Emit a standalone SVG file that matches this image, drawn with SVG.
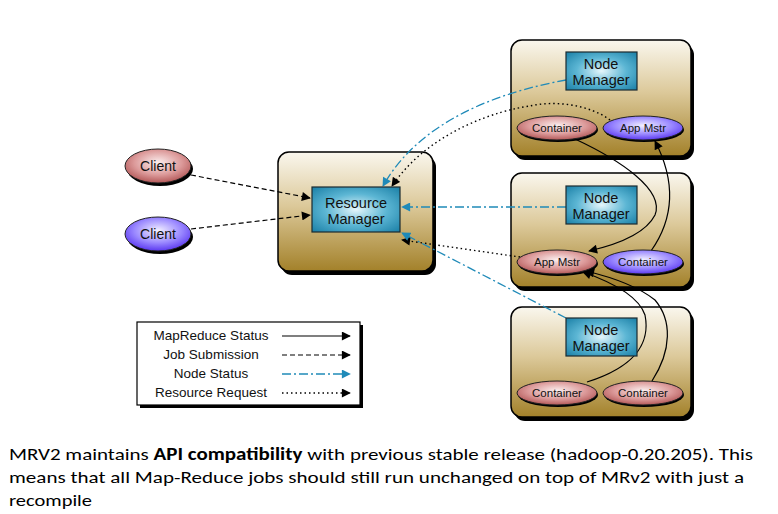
<svg xmlns="http://www.w3.org/2000/svg" width="778" height="514" viewBox="0 0 778 514">
<defs>
<linearGradient id="gBox" x1="0" y1="0" x2="0" y2="1">
<stop offset="0" stop-color="#faf7ee"/>
<stop offset="0.45" stop-color="#dcc99a"/>
<stop offset="1" stop-color="#a3812a"/>
</linearGradient>
<radialGradient id="gNM" cx="0.5" cy="0.5" r="0.7">
<stop offset="0" stop-color="#e6f6fb"/>
<stop offset="0.5" stop-color="#5cb6d4"/>
<stop offset="1" stop-color="#1a7fa6"/>
</radialGradient>
<radialGradient id="gPink" cx="0.5" cy="0.4" r="0.6">
<stop offset="0" stop-color="#fbeeee"/>
<stop offset="0.6" stop-color="#dc9a9a"/>
<stop offset="1" stop-color="#b35858"/>
</radialGradient>
<radialGradient id="gBlue" cx="0.5" cy="0.4" r="0.6">
<stop offset="0" stop-color="#f2f0ff"/>
<stop offset="0.6" stop-color="#9a88ff"/>
<stop offset="1" stop-color="#5b38f0"/>
</radialGradient>
<marker id="aK" viewBox="0 0 10 10" refX="9" refY="5" markerWidth="10" markerHeight="9" markerUnits="userSpaceOnUse" orient="auto">
<path d="M0,0 L10,5 L0,10 z" fill="#000"/>
</marker>
<marker id="aB" viewBox="0 0 10 10" refX="9" refY="5" markerWidth="10" markerHeight="9" markerUnits="userSpaceOnUse" orient="auto">
<path d="M0,0 L10,5 L0,10 z" fill="#1f8ab8"/>
</marker>
</defs>
<style>
.box{fill:url(#gBox);stroke:#000;stroke-width:1.5}
.shadow{fill:#000}
.nm{fill:url(#gNM);stroke:#1b2a30;stroke-width:1.2}
.pink{fill:url(#gPink);stroke:#222;stroke-width:1}
.blue{fill:url(#gBlue);stroke:#222;stroke-width:1}
.eshadow{fill:#000}
.t{font-family:"Liberation Sans",Arial,Helvetica,sans-serif;fill:#111;text-anchor:middle}
.tn{font-size:14.5px}
.te{font-size:11.5px}
.tc{font-size:14px}
.tl{font-size:13.5px}
.solid{fill:none;stroke:#000;stroke-width:1.2;marker-end:url(#aK)}
.dash{fill:none;stroke:#000;stroke-width:1.2;stroke-dasharray:5,3;marker-end:url(#aK)}
.dot{fill:none;stroke:#000;stroke-width:1.4;stroke-dasharray:1.5,3;marker-end:url(#aK)}
.nstat{fill:none;stroke:#1f8ab8;stroke-width:1.3;stroke-dasharray:9,3,2,3;marker-end:url(#aB)}
.body{font-family:Carlito,Calibri,"Open Sans","Liberation Sans",sans-serif;font-size:17px;fill:#000}
</style>

<g id="resource-manager-host">
<rect class="shadow" x="281" y="156" width="155" height="119" rx="11"/>
<rect class="box" x="278" y="152" width="155" height="119" rx="11"/>
</g>
<g id="node1">
<rect class="shadow" x="514" y="44" width="180" height="116" rx="11"/>
<rect class="box" x="511" y="40" width="180" height="116" rx="11"/>
</g>
<g id="node2">
<rect class="shadow" x="514" y="177" width="180" height="114" rx="11"/>
<rect class="box" x="511" y="173" width="180" height="114" rx="11"/>
</g>
<g id="node3">
<rect class="shadow" x="514" y="311" width="180" height="110" rx="11"/>
<rect class="box" x="511" y="307" width="180" height="110" rx="11"/>
</g>

<g id="connectors">
<path class="dash" d="M191,175 L310,198"/>
<path class="dash" d="M191,229 L310,215"/>
<path class="nstat" d="M566,80 C500,92 420,120 383,186"/>
<path class="dot" d="M610,120 C590,105 555,100 530,106 C500,110 430,130 392,186"/>
<path class="nstat" d="M566,207 L402,207"/>
<path class="dot" d="M520,257 L402,240"/>
<path class="nstat" d="M566,318 L402,233"/>
<path class="solid" d="M575,139 C620,160 665,190 655,215 C645,235 615,245 589,251"/>
<path class="solid" d="M651,251 C680,210 670,170 655,141"/>
<path class="solid" d="M587,382 C640,365 650,340 645,315 C640,300 620,285 583,272"/>
<path class="solid" d="M652,381 C672,350 672,320 655,300 C640,288 615,278 586,271"/>
</g>

<g id="resource-manager">
<rect class="nm" x="312" y="187" width="88" height="45"/>
<text class="t tn" x="356" y="208">Resource</text>
<text class="t tn" x="356" y="224">Manager</text>
</g>

<g id="client1">
<ellipse class="eshadow" cx="160" cy="169" rx="33" ry="17"/>
<ellipse class="pink" cx="158" cy="166" rx="33" ry="17"/>
<text class="t tc" x="158" y="171">Client</text>
</g>
<g id="client2">
<ellipse class="eshadow" cx="160" cy="237" rx="33" ry="17"/>
<ellipse class="blue" cx="158" cy="234" rx="33" ry="17"/>
<text class="t tc" x="158" y="239">Client</text>
</g>

<g id="node-manager-1">
<rect class="nm" x="566" y="52" width="71" height="38"/>
<text class="t tn" x="601" y="69">Node</text>
<text class="t tn" x="601" y="85">Manager</text>
</g>
<g id="container-1a">
<ellipse class="eshadow" cx="558" cy="130" rx="40" ry="12"/>
<ellipse class="pink" cx="557" cy="128" rx="40" ry="12"/>
<text class="t te" x="557" y="132">Container</text>
</g>
<g id="appmstr-1">
<ellipse class="eshadow" cx="644" cy="130" rx="40" ry="12"/>
<ellipse class="blue" cx="643" cy="128" rx="40" ry="12"/>
<text class="t te" x="643" y="132">App Mstr</text>
</g>

<g id="node-manager-2">
<rect class="nm" x="566" y="186" width="71" height="38"/>
<text class="t tn" x="601" y="203">Node</text>
<text class="t tn" x="601" y="219">Manager</text>
</g>
<g id="appmstr-2">
<ellipse class="eshadow" cx="558" cy="264" rx="40" ry="12"/>
<ellipse class="pink" cx="557" cy="262" rx="40" ry="12"/>
<text class="t te" x="557" y="266">App Mstr</text>
</g>
<g id="container-2">
<ellipse class="eshadow" cx="644" cy="264" rx="40" ry="12"/>
<ellipse class="blue" cx="643" cy="262" rx="40" ry="12"/>
<text class="t te" x="643" y="266">Container</text>
</g>

<g id="node-manager-3">
<rect class="nm" x="566" y="318" width="71" height="38"/>
<text class="t tn" x="601" y="335">Node</text>
<text class="t tn" x="601" y="351">Manager</text>
</g>
<g id="container-3a">
<ellipse class="eshadow" cx="558" cy="395" rx="40" ry="12"/>
<ellipse class="pink" cx="557" cy="393" rx="40" ry="12"/>
<text class="t te" x="557" y="397">Container</text>
</g>
<g id="container-3b">
<ellipse class="eshadow" cx="644" cy="395" rx="40" ry="12"/>
<ellipse class="pink" cx="643" cy="393" rx="40" ry="12"/>
<text class="t te" x="643" y="397">Container</text>
</g>

<g id="legend">
<rect x="140" y="325" width="223" height="83" fill="#000"/>
<rect x="137" y="322" width="223" height="83" fill="#fff" stroke="#000" stroke-width="1.2"/>
<text class="t tl" x="211" y="340">MapReduce Status</text>
<text class="t tl" x="211" y="359">Job Submission</text>
<text class="t tl" x="211" y="378">Node Status</text>
<text class="t tl" x="211" y="397">Resource Request</text>
<path class="solid" d="M282,336 L350,336"/>
<path class="dash" d="M282,355 L350,355"/>
<path class="nstat" d="M282,374 L350,374"/>
<path class="dot" d="M282,393 L350,393"/>
</g>

<g id="caption">
<text class="body" x="9" y="460" textLength="744" lengthAdjust="spacingAndGlyphs">MRV2 maintains <tspan font-weight="bold">API compatibility</tspan> with previous stable release (hadoop-0.20.205). This</text>
<text class="body" x="9" y="483" textLength="735" lengthAdjust="spacingAndGlyphs">means that all Map-Reduce jobs should still run unchanged on top of MRv2 with just a</text>
<text class="body" x="9" y="506" textLength="83" lengthAdjust="spacingAndGlyphs">recompile</text>
</g>
</svg>
